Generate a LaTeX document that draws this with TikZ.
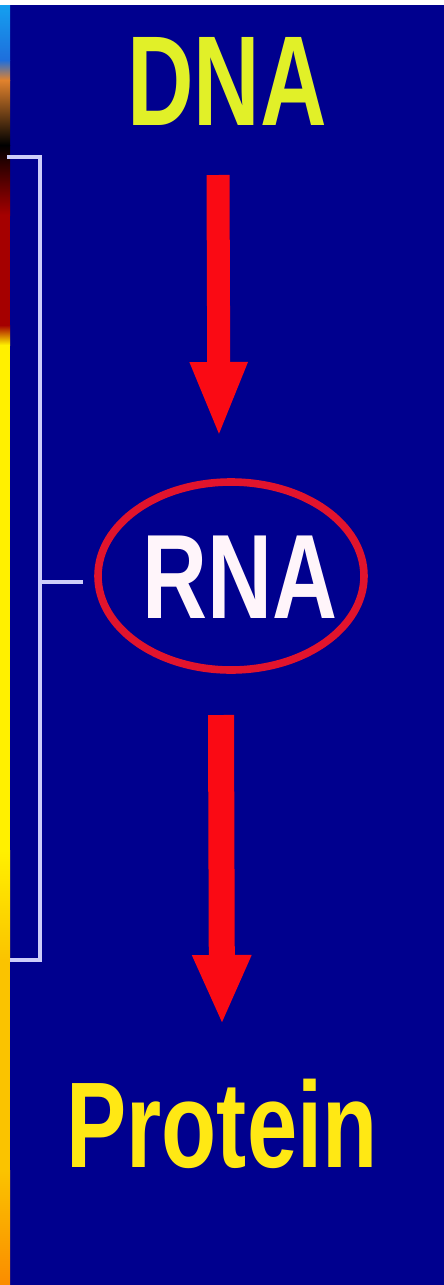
\documentclass[tikz,border=0pt]{standalone}
\usepackage{fontspec}
\setmainfont{Liberation Sans}
\usetikzlibrary{arrows.meta,shapes.geometric}
\definecolor{bgnavy}{RGB}{0,0,142}
\definecolor{dnacol}{RGB}{225,240,40}
\definecolor{rnacol}{RGB}{255,245,250}
\definecolor{protcol}{RGB}{255,232,20}
\definecolor{ringred}{RGB}{225,20,45}
\definecolor{arrred}{RGB}{250,10,20}
\definecolor{brcol}{RGB}{205,205,250}
\definecolor{stripcyan}{RGB}{20,160,240}
\definecolor{stripblue}{RGB}{30,110,220}
\definecolor{striporange}{RGB}{225,130,45}
\definecolor{stripred}{RGB}{165,0,0}
\definecolor{stripyellow}{RGB}{255,240,0}
\definecolor{stripgold}{RGB}{250,195,0}
\definecolor{striporng}{RGB}{250,140,0}
\begin{document}
\begin{tikzpicture}[x=0.5pt,y=-0.5pt,
  bigword/.style={anchor=base,inner sep=0pt,outer sep=0pt},
  blockarrow/.style={draw=arrred,line width=11.5pt,line cap=butt,
     -{Triangle[length=38pt,width=26pt]}},
  bracketline/.style={draw=brcol,line width=1.6pt}]
\useasboundingbox (0,0) rectangle (444,1285);
\fill[white] (0,0) rectangle (444,5);
\fill[bgnavy] (0,5) rectangle (444,1285);
% left coloured strip
\shade[top color=stripcyan,bottom color=stripblue] (0,5) rectangle (10,60);
\shade[top color=stripblue,bottom color=striporange] (0,60) rectangle (10,80);
\shade[top color=striporange,bottom color=black] (0,80) rectangle (10,145);
\shade[top color=black,bottom color=stripred] (0,145) rectangle (10,215);
\fill[stripred] (0,215) rectangle (10,325);
\shade[top color=stripred,bottom color=stripyellow] (0,325) rectangle (10,345);
\fill[stripyellow] (0,345) rectangle (10,850);
\shade[top color=stripyellow,bottom color=stripgold] (0,850) rectangle (10,960);
\fill[stripgold] (0,960) rectangle (10,1170);
\shade[top color=stripgold,bottom color=striporng] (0,1170) rectangle (10,1285);
% bracket
\draw[bracketline] (7,157) -- (40,157) -- (40,960) -- (10,960);
\coordinate (brmid) at (40,582);
\coordinate (brtick) at (83,582);
\draw[bracketline] (brmid) -- (brtick);
% words
\node[bigword,text=dnacol,font=\fontsize{64pt}{64pt}\selectfont\bfseries] (dna) at (227,125) {\scalebox{0.72}[1]{DNA}};
\node[ellipse,draw=ringred,line width=3.8pt,minimum width=133pt,minimum height=94pt,inner sep=0pt] (rna) at (231,576) {};
\node[bigword,text=rnacol,font=\fontsize{60pt}{60pt}\selectfont\bfseries] (rnatext) at (240,618) {\scalebox{0.75}[1]{RNA}};
\node[bigword,text=protcol,font=\fontsize{61pt}{61pt}\selectfont\bfseries] (protein) at (222,1167) {\scalebox{0.74}[1]{Protein}};
% arrows
\coordinate (a1s) at (218,175);
\coordinate (a1e) at (219,438);
\coordinate (a2s) at (221,715);
\coordinate (a2e) at (222,1025);
\draw[blockarrow] (a1s) -- (a1e);
\draw[blockarrow,line width=13pt,-{Triangle[length=35pt,width=27pt]}] (a2s) -- (a2e);
\end{tikzpicture}
\end{document}
